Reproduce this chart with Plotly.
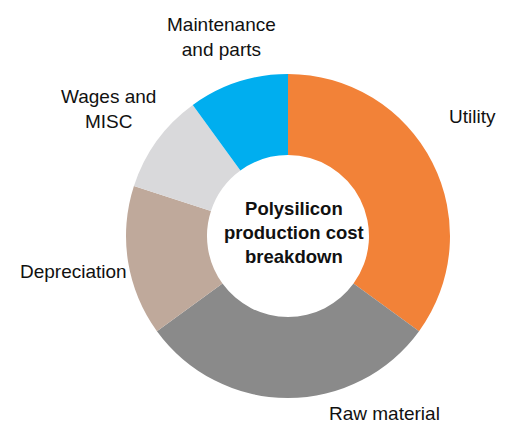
import plotly.graph_objects as go

categories = ["Utility", "Raw material", "Depreciation", "Wages and MISC", "Maintenance and parts"]
values = [35, 30, 15, 10, 10]
colors = ["#F28238", "#8A8A8A", "#BFA99B", "#D9D9DB", "#00AEEF"]
label_texts = ["Utility", "Raw material", "Depreciation", "Wages and<br>MISC", "Maintenance<br>and parts"]
center_text = "<b>Polysilicon<br>production cost<br>breakdown</b>"

W, H = 515, 439
OFF = 8  # page body margin in the browser
# label anchor positions in screenshot pixels (x, y from top)
label_pos = [(472, 117), (384, 413), (73, 271), (108, 109), (221, 37)]


def px_x(v):
    return (v - OFF) / W


def px_y(v):
    return 1 - (v - OFF) / H


fig = go.Figure(go.Pie(
    labels=categories,
    values=values,
    marker=dict(colors=colors, line=dict(width=0)),
    hole=0.5,
    sort=False,
    direction="clockwise",
    rotation=0,
    textinfo="none",
    hoverinfo="label+percent",
    showlegend=False,
    domain=dict(x=[px_x(126), px_x(450)], y=[px_y(398), px_y(74)]),
))

annotations = []
for txt, (px, py) in zip(label_texts, label_pos):
    annotations.append(dict(
        text=txt, x=px_x(px), y=px_y(py), xref="paper", yref="paper",
        showarrow=False, xanchor="center", yanchor="middle", align="center",
        font=dict(family="Liberation Sans, Arial, sans-serif", size=19, color="#111111"),
    ))
annotations.append(dict(
    text=center_text, x=px_x(294), y=px_y(232), xref="paper", yref="paper",
    showarrow=False, xanchor="center", yanchor="middle", align="center",
    font=dict(family="Liberation Sans, Arial, sans-serif", size=18.5, color="#111111"),
))

fig.update_layout(
    width=W, height=H,
    margin=dict(l=0, r=0, t=0, b=0),
    paper_bgcolor="white",
    plot_bgcolor="white",
    annotations=annotations,
)

fig.write_html("out.html")
